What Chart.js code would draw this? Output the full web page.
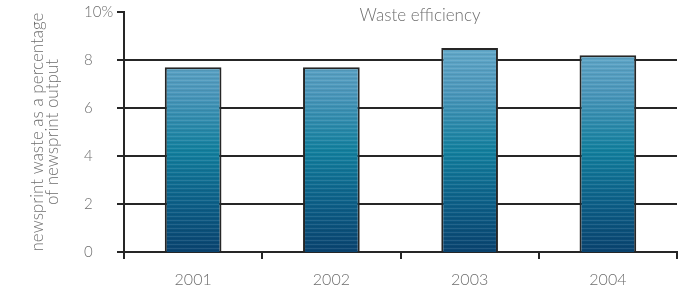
<!DOCTYPE html>
<html>
<head>
<meta charset="utf-8">
<script src="https://cdn.jsdelivr.net/npm/chart.js@4.4.1/dist/chart.umd.min.js"></script>
<style>
html,body{margin:0;padding:0;background:#fff;}
#wrap{width:680px;height:292px;position:relative;}
</style>
</head>
<body>
<div id="wrap"><canvas id="c" width="680" height="292"></canvas></div>
<script>
const categories = ['2001', '2002', '2003', '2004'];
const wastePct = [7.7, 7.7, 8.5, 8.2];
const yTickValues = [0, 2, 4, 6, 8, 10];
const chartTitle = 'Waste efficiency';
const yTitleLines = ['newsprint waste as a percentage', 'of newsprint output'];

const FONT = "Lato, 'Open Sans', 'Liberation Sans', sans-serif";
const TEXT = '#6e6e6e';
const LINE = '#262626';

let patternCache = null;
function barFill(ctx) {
  const chart = ctx.chart;
  const area = chart.chartArea;
  if (!area) return '#1a7fa3';
  const key = area.top + '_' + area.bottom;
  if (patternCache && patternCache.key === key) return patternCache.pat;
  const yScale = chart.scales.y;
  const yTop = yScale.getPixelForValue(Math.max(...wastePct));
  const yBot = yScale.getPixelForValue(0);
  const off = document.createElement('canvas');
  off.width = 4; off.height = chart.height;
  const o = off.getContext('2d');
  const g = o.createLinearGradient(0, yTop, 0, yBot);
  g.addColorStop(0, '#62a8c9');
  g.addColorStop(0.22, '#4b97bb');
  g.addColorStop(0.5, '#13809f');
  g.addColorStop(0.75, '#0d6189');
  g.addColorStop(1, '#0a4470');
  o.fillStyle = g;
  o.fillRect(0, 0, 4, chart.height);
  for (let y = 0; y < chart.height; y += 4) {
    o.fillStyle = 'rgba(255,255,255,0.10)';
    o.fillRect(0, y, 4, 1);
    o.fillStyle = 'rgba(0,0,0,0.06)';
    o.fillRect(0, y + 2, 4, 1);
  }
  const pat = chart.ctx.createPattern(off, 'repeat');
  patternCache = {key, pat};
  return pat;
}

const titlePlugin = {
  id: 'floatTitle',
  afterDraw(chart) {
    const c = chart.ctx;
    c.save();
    c.font = "300 17px " + FONT;
    c.fillStyle = TEXT;
    c.textAlign = 'center';
    c.textBaseline = 'middle';
    c.fillText(chartTitle, 420, 16);
    c.restore();
  }
};

function noVPad(s) { s.paddingTop = 0; s.paddingBottom = 0; }

new Chart(document.getElementById('c'), {
  type: 'bar',
  data: {
    labels: categories,
    datasets: [{
      data: wastePct,
      backgroundColor: barFill,
      borderColor: LINE,
      borderWidth: 2,
      borderSkipped: 'bottom',
      barPercentage: 0.41,
      categoryPercentage: 1.0
    }]
  },
  options: {
    responsive: false,
    animation: false,
    devicePixelRatio: 1,
    layout: { padding: { top: 12, right: 3, left: 0, bottom: 0 } },
    plugins: { legend: { display: false }, tooltip: { enabled: false }, title: { display: false } },
    scales: {
      yt: {
        type: 'linear',
        position: 'left',
        weight: 10,
        min: 0, max: 10,
        grid: { display: false, drawTicks: false },
        border: { display: false },
        ticks: { display: false },
        title: {
          display: true,
          text: yTitleLines,
          color: TEXT,
          font: { family: FONT, size: 17, weight: '300', lineHeight: 0.9 },
          padding: { top: 30, bottom: 0 }
        },
        afterFit(s) { s.width = 84; noVPad(s); }
      },
      y: {
        position: 'left',
        weight: 1,
        min: 0, max: 10,
        afterBuildTicks(s) { s.ticks = yTickValues.map(v => ({ value: v })); },
        ticks: {
          crossAlign: 'far',
          padding: 8,
          color: TEXT,
          font: { family: FONT, size: 15, weight: '300' },
          callback: (v) => v === 10 ? v + '%' : String(v)
        },
        grid: {
          color: (c) => (c.tick && c.tick.value === 10) ? 'rgba(0,0,0,0)' : LINE,
          tickColor: LINE,
          lineWidth: 2, tickLength: 7, drawTicks: true
        },
        border: { display: true, color: LINE, width: 2 },
        afterFit(s) { s.width = 40; noVPad(s); }
      },
      x: {
        position: 'bottom',
        grid: { offset: true, drawOnChartArea: false, drawTicks: true, tickLength: 7, color: LINE, lineWidth: 2 },
        border: { display: true, color: LINE, width: 2 },
        ticks: {
          padding: 11,
          color: TEXT,
          font: { family: FONT, size: 16, weight: '300' }
        },
        afterFit(s) { s.height = 40; s.paddingLeft = 0; s.paddingRight = 0; }
      }
    }
  },
  plugins: [titlePlugin]
});
</script>
</body>
</html>
